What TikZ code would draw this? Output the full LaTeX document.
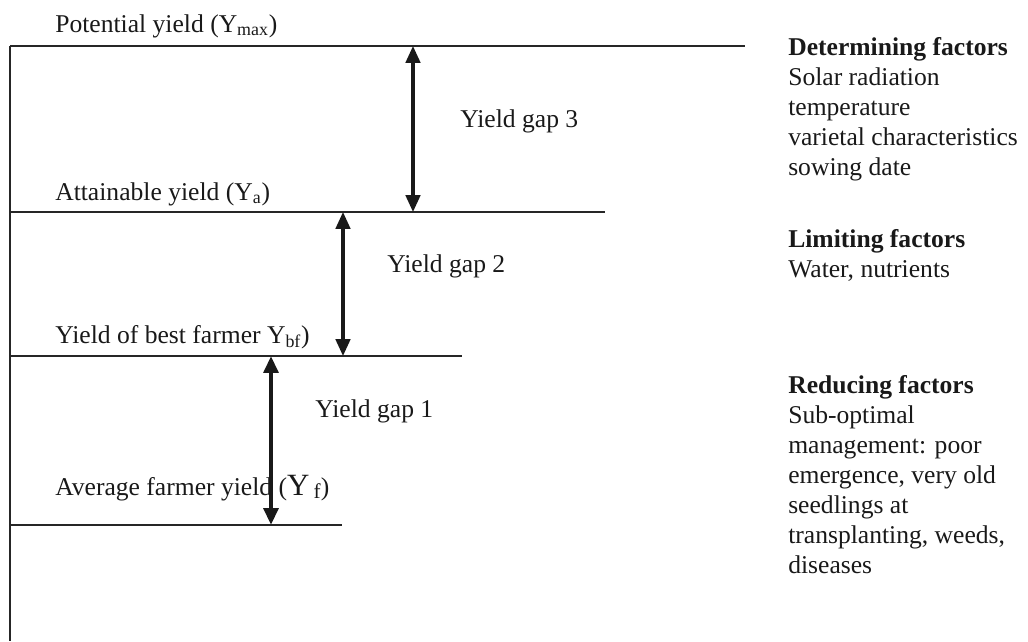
\documentclass[tikz,border=0pt]{standalone}
\usepackage{fontspec}
\setmainfont{Liberation Serif}
\usetikzlibrary{arrows.meta,positioning}

\begin{document}
\begin{tikzpicture}[x=0.025cm,y=-0.025cm]
  \tikzstyle{level} = [draw, black!85, line width=1.4pt];
  \tikzstyle{gapArrow} = [black!90, line width=2.2pt, {Triangle[length=0.42cm,width=0.36cm]}-{Triangle[length=0.42cm,width=0.36cm]}];
  \tikzstyle{gapArrowBold} = [gapArrow, line width=3.4pt];
  \tikzstyle{lbl} = [anchor=base west, inner sep=0pt, text=black!90, font={\fontsize{18.2}{21.3}\selectfont}];
  \tikzstyle{factors} = [lbl, align=left];

  \useasboundingbox (0,0) rectangle (1028,641);

  % yield levels
  \coordinate (axisTop) at (10,46);
  \coordinate (axisBot) at (10,641);
  \coordinate (ymaxL) at (10,46);
  \coordinate (ymaxR) at (745,46);
  \coordinate (yaL) at (10,212);
  \coordinate (yaR) at (605,212);
  \coordinate (ybfL) at (10,356);
  \coordinate (ybfR) at (462,356);
  \coordinate (yfL) at (10,525);
  \coordinate (yfR) at (342,525);

  \draw[level] (axisTop) -- (axisBot);
  \draw[level] (ymaxL) -- (ymaxR);
  \draw[level] (yaL) -- (yaR);
  \draw[level] (ybfL) -- (ybfR);
  \draw[level] (yfL) -- (yfR);

  \node[lbl](ymax) at (55,32) {Potential yield (Y\textsubscript{max})};
  \node[lbl](ya) at (55,200) {Attainable yield (Y\textsubscript{a})};
  \node[lbl](ybf) at (55,343) {Yield of best farmer Y\textsubscript{bf})};
  \node[lbl](yf) at (55,495) {Average farmer yield ({\fontsize{22}{24}\selectfont Y}\,\raisebox{-0.3ex}{\fontsize{15}{16}\selectfont f})};

  % gaps
  \coordinate (gap3top) at (413,46);
  \coordinate (gap3bot) at (413,212);
  \coordinate (gap2top) at (343,212);
  \coordinate (gap2bot) at (343,356);
  \coordinate (gap1top) at (271,356);
  \coordinate (gap1bot) at (271,525);

  \draw[gapArrow] (gap3top) -- (gap3bot);
  \draw[gapArrow] (gap2top) -- (gap2bot);
  \draw[gapArrowBold] (gap1top) -- (gap1bot);

  \node[lbl](g3) at (460,127) {Yield gap 3};
  \node[lbl](g2) at (387,272) {Yield gap 2};
  \node[lbl](g1) at (315,417) {Yield gap 1};

  % factors (placed by the baseline of their last line)
  \node[factors](det) at (788,175) {\textbf{Determining factors}\\Solar radiation\\temperature\\varietal characteristics\\sowing date};
  \node[factors](lim) at (788,277) {\textbf{Limiting factors}\\Water, nutrients};
  \node[factors](red) at (788,573) {\textbf{Reducing factors}\\Sub-optimal\\management: poor\\emergence, very old\\seedlings at\\transplanting, weeds,\\diseases};
\end{tikzpicture}
\end{document}
